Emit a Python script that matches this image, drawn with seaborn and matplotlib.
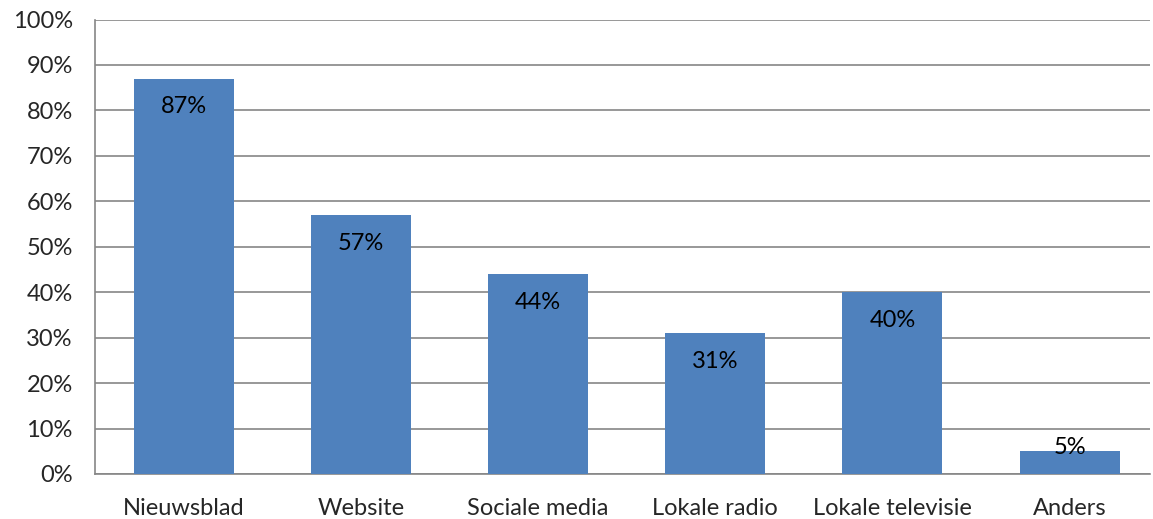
import pandas as pd
import seaborn as sns
import matplotlib.pyplot as plt

# data
categories = ["Nieuwsblad", "Website", "Sociale media", "Lokale radio", "Lokale televisie", "Anders"]
values = [87, 57, 44, 31, 40, 5]

df = pd.DataFrame({"kanaal": categories, "pct": values})

sns.set_style("white")
plt.rcParams['font.family'] = ['Lato', 'DejaVu Sans']

fig = plt.figure(figsize=(11.53, 5.19), dpi=100)
ax = fig.add_axes([95 / 1153, 1 - 474 / 519, 1055 / 1153, 454.5 / 519])

sns.barplot(data=df, x="kanaal", y="pct", color="#4F81BD", saturation=1,
            width=0.565, linewidth=0, ax=ax, zorder=3)

# labels near top of bars
for i, v in enumerate(values):
    ax.text(i, max(v - 6.2, 5.9), f"{v}%", ha="center", va="center",
            fontsize=17, color="black", zorder=4)

ax.set_ylim(0, 100)
ax.set_xlim(-0.5, -0.5 + 1055 / 177.2)
ax.set_yticks(range(0, 101, 10))
ax.set_yticklabels([f"{t}%" for t in range(0, 101, 10)], fontsize=17)
ax.tick_params(axis="x", labelsize=17, length=0, pad=17)
ax.tick_params(axis="y", length=0, pad=16)
ax.set_xlabel("")
ax.set_ylabel("")
ax.yaxis.grid(True, color="#868686", linewidth=1.2, zorder=0)
ax.set_axisbelow(True)

for s in ["top", "right"]:
    ax.spines[s].set_visible(False)
for s in ["left", "bottom"]:
    ax.spines[s].set_color("#868686")
    ax.spines[s].set_linewidth(1.2)

plt.savefig("out.png", dpi=100)
